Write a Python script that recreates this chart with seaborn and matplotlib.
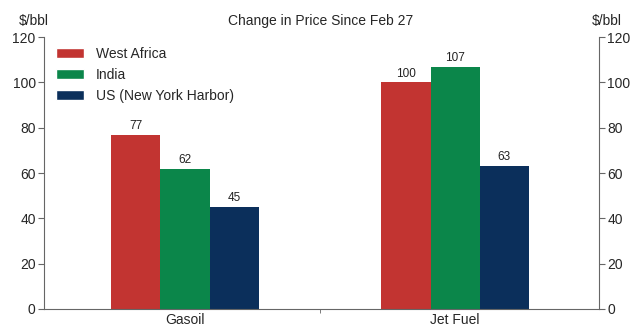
import matplotlib
matplotlib.use("Agg")
import matplotlib.pyplot as plt
import seaborn as sns
import pandas as pd
from matplotlib.patches import Patch

categories = ["Gasoil", "Jet Fuel"]
regions = ["West Africa", "India", "US (New York Harbor)"]
west_africa = [77, 100]
india = [62, 107]
us_nyh = [45, 63]
colors = ["#C23431", "#0B864A", "#0B2F5B"]
yticks = [0, 20, 40, 60, 80, 100, 120]

rows = []
for reg, vals in zip(regions, [west_africa, india, us_nyh]):
    for c, v in zip(categories, vals):
        rows.append({"cat": c, "region": reg, "value": v})
df = pd.DataFrame(rows)

sns.set_style("white")
plt.rcParams["font.family"] = ["Liberation Sans", "DejaVu Sans"]

fig = plt.figure(figsize=(6.41, 3.34), dpi=100)
ax = fig.add_axes([0.0686, 0.0749, 0.866, 0.814])
sns.barplot(data=df, x="cat", y="value", hue="region", order=categories,
            hue_order=regions, palette=colors, width=0.545, gap=0,
            saturation=1, legend=False, ax=ax, errorbar=None, linewidth=0)
for cont in ax.containers:
    ax.bar_label(cont, fmt="%d", padding=2, fontsize=8.5, color="#222222")

ax.set_xlim(-0.522, 1.533)
ax.set_ylim(0, 120)
ax.set_yticks(yticks)
ax.set_xlabel("")
ax.set_ylabel("")
spine_c = "#666666"
for s in ["top", "right"]:
    ax.spines[s].set_visible(False)
for s in ["left", "bottom"]:
    ax.spines[s].set_color(spine_c)
ax.tick_params(axis="y", direction="out", length=4, color=spine_c, labelsize=10, left=True, pad=2)
ax.tick_params(axis="x", length=0, labelsize=10, pad=3)
ax.set_xticks([0.5], minor=True)
ax.tick_params(axis="x", which="minor", length=3, color=spine_c, direction="out", bottom=True)

ax2 = ax.twinx()
ax2.set_ylim(0, 120)
ax2.set_yticks(yticks)
for s in ["top", "left", "bottom"]:
    ax2.spines[s].set_visible(False)
ax2.spines["right"].set_color(spine_c)
ax2.tick_params(axis="y", direction="out", length=4, color=spine_c, labelsize=10, right=True, pad=2)

fig.text(0.5, 0.937, "Change in Price Since Feb 27", ha="center", va="center", fontsize=10)
fig.text(0.053, 0.937, "$/bbl", ha="center", va="center", fontsize=10)
fig.text(0.947, 0.937, "$/bbl", ha="center", va="center", fontsize=10)

handles = [Patch(facecolor=c, label=r) for c, r in zip(colors, regions)]
ax.legend(handles=handles, loc="upper left", bbox_to_anchor=(0.0, 1.01), frameon=False,
          fontsize=10, handlelength=1.95, handleheight=0.7, labelspacing=0.5, handletextpad=0.9)

fig.savefig("out.png", dpi=100)
